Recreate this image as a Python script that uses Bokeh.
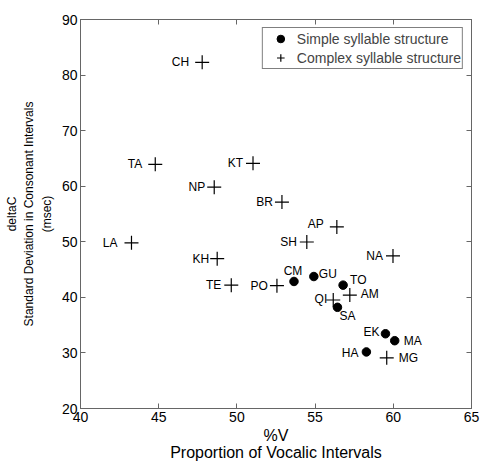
from bokeh.plotting import figure
from bokeh.models import ColumnDataSource, LinearAxis, FixedTicker, Legend, LegendItem
from bokeh.core.properties import value
from bokeh.embed import file_html
from bokeh.resources import INLINE

# ---- data ----
simple_codes = ["CM", "GU", "TO", "SA", "EK", "MA", "HA"]
simple_pv = [53.65, 54.92, 56.79, 56.43, 59.5, 60.09, 58.28]
simple_dc = [42.86, 43.75, 42.2, 38.21, 33.45, 32.2, 30.18]

complex_codes = ["CH", "TA", "KT", "NP", "BR", "AP", "SH", "LA", "NA", "KH", "TE", "PO", "AM", "QI", "MG"]
complex_pv = [47.78, 44.78, 51.03, 48.55, 52.88, 56.39, 54.47, 43.26, 59.98, 48.74, 49.64, 52.56, 57.22, 56.16, 59.58]
complex_dc = [82.3, 63.93, 64.11, 59.82, 57.14, 52.68, 49.96, 49.82, 47.45, 46.96, 42.2, 42.1, 40.41, 39.52, 29.11]

x_ticks = [40, 45, 50, 55, 60, 65]
y_ticks = [20, 30, 40, 50, 60, 70, 80, 90]

x_label = "%V\nProportion of Vocalic Intervals"
y_label = "deltaC\nStandard Deviation in Consonant Intervals\n(msec)"
legend_labels = ["Simple syllable structure", "Complex syllable structure"]

# label placement (screen px offsets, alignment) per code
label_place = {
    "CH": (-13, 0, "right"), "TA": (-13, 0, "right"), "KT": (-10, 0, "right"),
    "NP": (-9, 0, "right"), "BR": (-9, 0, "right"), "AP": (-13, -3, "right"),
    "SH": (-10, 0, "right"), "LA": (-14, 0, "right"), "NA": (-10, 0, "right"),
    "KH": (-8, 0, "right"), "TE": (-10, 0, "right"), "PO": (-9, 0, "right"),
    "CM": (-1, -10, "center"), "GU": (5, -3, "left"), "TO": (7, -5, "left"),
    "AM": (11, -1, "left"), "QI": (-6, -1, "right"), "SA": (2, 9, "left"),
    "EK": (-6, -2, "right"), "MA": (9, 0, "left"), "HA": (-8, 1, "right"),
    "MG": (12, 0, "left"),
}

FONT = "Liberation Sans"
AX = "#666666"

p = figure(width=480, height=463, x_range=(40, 65), y_range=(20, 90),
           output_backend="svg", toolbar_location=None,
           min_border_left=80, min_border_right=9, min_border_top=19, min_border_bottom=52)
p.grid.visible = False
p.outline_line_color = AX

for ax in (p.xaxis[0], p.yaxis[0]):
    ax.major_tick_in = 5
    ax.major_tick_out = 0
    ax.minor_tick_line_color = None
    ax.axis_line_color = AX
    ax.major_tick_line_color = AX
    ax.major_label_text_font = FONT
    ax.major_label_text_font_size = "14px"
    ax.major_label_text_color = "black"
    ax.major_label_standoff = 3
    ax.axis_label_text_font = FONT
    ax.axis_label_text_font_style = "normal"
    ax.axis_label_text_color = "black"

p.xaxis.ticker = FixedTicker(ticks=x_ticks)
p.yaxis.ticker = FixedTicker(ticks=y_ticks)
p.xaxis.axis_label = x_label
p.xaxis.axis_label_text_font_size = "16px"
p.xaxis.axis_label_text_line_height = 1.0
p.xaxis.axis_label_standoff = 2
p.yaxis.axis_label = y_label
p.yaxis.axis_label_text_font_size = "12px"
p.yaxis.axis_label_text_line_height = 1.25
p.yaxis.axis_label_standoff = 5

for loc, ticks in (("above", x_ticks), ("right", y_ticks)):
    ax = LinearAxis(ticker=FixedTicker(ticks=ticks))
    ax.major_tick_in = 5
    ax.major_tick_out = 0
    ax.minor_tick_line_color = None
    ax.axis_line_color = AX
    ax.major_tick_line_color = AX
    ax.major_label_text_font_size = "0px"
    ax.major_label_standoff = 0
    p.add_layout(ax, loc)

r_simple = p.scatter(simple_pv, simple_dc, marker="circle", size=8.5,
                     fill_color="black", line_color="black")
r_complex = p.scatter(complex_pv, complex_dc, marker="cross", size=14,
                      line_color="black", line_width=1.2)

codes = simple_codes + complex_codes
xs = simple_pv + complex_pv
ys = simple_dc + complex_dc
src = ColumnDataSource(dict(
    x=xs, y=ys, t=codes,
    dx=[label_place[c][0] for c in codes],
    dy=[label_place[c][1] for c in codes],
    al=[label_place[c][2] for c in codes],
))
p.text(x="x", y="y", text="t", x_offset="dx", y_offset="dy", text_align="al",
       text_baseline="middle", text_font=value(FONT), text_font_size="12px",
       text_color="black", source=src)

legend = Legend(items=[
    LegendItem(label=legend_labels[0], renderers=[r_simple]),
    LegendItem(label=legend_labels[1], renderers=[r_complex]),
], location="top_right")
legend.label_text_font = FONT
legend.label_text_font_size = "14px"
legend.border_line_color = "black"
legend.border_line_width = 1
legend.margin = 8
legend.padding = 1
legend.spacing = 0
legend.label_height = 19
legend.glyph_height = 19
legend.glyph_width = 33
legend.label_standoff = 0
p.add_layout(legend)

open("out.html", "w").write(file_html(p, INLINE))
